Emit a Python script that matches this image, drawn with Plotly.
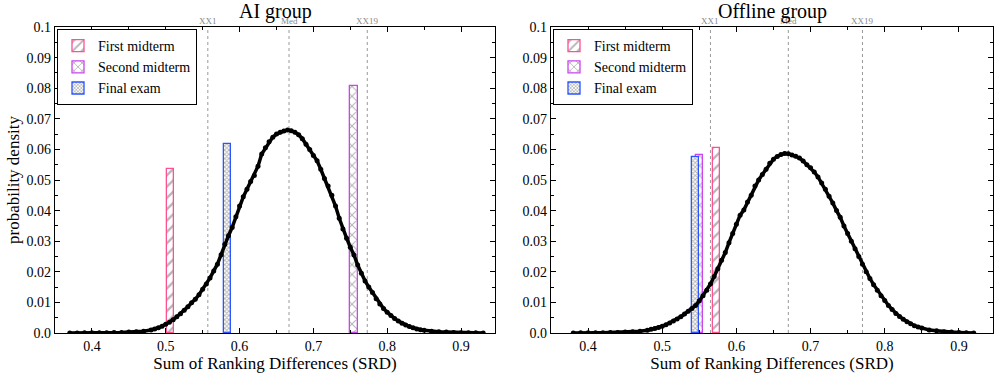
import plotly.graph_objects as go
from plotly.subplots import make_subplots

# ---------------- data ----------------
ai_x = [0.370, 0.380, 0.390, 0.400, 0.410, 0.420, 0.430, 0.440, 0.450, 0.460, 0.470, 0.480,
        0.485, 0.490, 0.495, 0.500, 0.505, 0.510, 0.515, 0.520, 0.525, 0.530, 0.535, 0.540,
        0.545, 0.550, 0.555, 0.560, 0.565, 0.570, 0.575, 0.580, 0.585, 0.590, 0.595, 0.600,
        0.605, 0.610, 0.615, 0.620, 0.625, 0.630, 0.635, 0.640, 0.645, 0.650, 0.655, 0.660,
        0.665, 0.670, 0.675, 0.680, 0.685, 0.690, 0.695, 0.700, 0.705, 0.710, 0.715, 0.720,
        0.725, 0.730, 0.735, 0.740, 0.745, 0.750, 0.755, 0.760, 0.765, 0.770, 0.775, 0.780,
        0.785, 0.790, 0.795, 0.800, 0.805, 0.810, 0.815, 0.820, 0.825, 0.830, 0.835, 0.840,
        0.845, 0.850, 0.860, 0.870, 0.880, 0.890, 0.900, 0.910, 0.920, 0.930]
ai_y = [0.0000, 0.0000, 0.0001, 0.0001, 0.0001, 0.0001, 0.0002, 0.0002, 0.0003, 0.0004, 0.0006, 0.0010,
        0.0013, 0.0017, 0.0022, 0.0029, 0.0035, 0.0043, 0.0053, 0.0063, 0.0074, 0.0086, 0.0099, 0.0110,
        0.0125, 0.0143, 0.0160, 0.0180, 0.0203, 0.0225, 0.0256, 0.0290, 0.0318, 0.0345, 0.0380, 0.0415,
        0.0445, 0.0470, 0.0495, 0.0515, 0.0545, 0.0585, 0.0605, 0.0625, 0.0640, 0.0650, 0.0656, 0.0660,
        0.0663, 0.0661, 0.0656, 0.0648, 0.0635, 0.0617, 0.0600, 0.0580, 0.0563, 0.0535, 0.0505, 0.0480,
        0.0450, 0.0415, 0.0375, 0.0340, 0.0310, 0.0280, 0.0255, 0.0222, 0.0195, 0.0170, 0.0150, 0.0132,
        0.0112, 0.0095, 0.0080, 0.0068, 0.0057, 0.0047, 0.0039, 0.0032, 0.0026, 0.0021, 0.0017, 0.0013,
        0.0011, 0.0009, 0.0006, 0.0004, 0.0003, 0.0002, 0.0001, 0.0001, 0.0001, 0.0000]

off_x = [0.380, 0.390, 0.400, 0.410, 0.420, 0.430, 0.440, 0.450, 0.460, 0.470, 0.480,
         0.485, 0.490, 0.495, 0.500, 0.505, 0.510, 0.515, 0.520, 0.525, 0.530, 0.535, 0.540,
         0.545, 0.550, 0.555, 0.560, 0.565, 0.570, 0.575, 0.580, 0.585, 0.590, 0.595, 0.600,
         0.605, 0.610, 0.615, 0.620, 0.625, 0.630, 0.635, 0.640, 0.645, 0.650, 0.655, 0.660,
         0.665, 0.670, 0.675, 0.680, 0.685, 0.690, 0.695, 0.700, 0.705, 0.710, 0.715, 0.720,
         0.725, 0.730, 0.735, 0.740, 0.745, 0.750, 0.755, 0.760, 0.765, 0.770, 0.775, 0.780,
         0.785, 0.790, 0.795, 0.800, 0.805, 0.810, 0.815, 0.820, 0.825, 0.830, 0.835, 0.840,
         0.845, 0.850, 0.860, 0.870, 0.880, 0.890, 0.900, 0.910, 0.920]
off_y = [0.0000, 0.0001, 0.0001, 0.0001, 0.0001, 0.0002, 0.0002, 0.0003, 0.0004, 0.0006, 0.0009,
         0.0012, 0.0015, 0.0018, 0.0022, 0.0027, 0.0033, 0.0039, 0.0046, 0.0053, 0.0062, 0.0071, 0.0080,
         0.0090, 0.0105, 0.0122, 0.0140, 0.0160, 0.0185, 0.0210, 0.0238, 0.0263, 0.0295, 0.0325, 0.0355,
         0.0385, 0.0402, 0.0428, 0.0450, 0.0480, 0.0500, 0.0518, 0.0535, 0.0555, 0.0568, 0.0577, 0.0583,
         0.0587, 0.0586, 0.0582, 0.0578, 0.0572, 0.0562, 0.0550, 0.0540, 0.0526, 0.0510, 0.0490, 0.0470,
         0.0447, 0.0425, 0.0400, 0.0378, 0.0350, 0.0325, 0.0300, 0.0275, 0.0250, 0.0225, 0.0200, 0.0178,
         0.0158, 0.0140, 0.0122, 0.0106, 0.0090, 0.0077, 0.0064, 0.0054, 0.0045, 0.0037, 0.0030, 0.0024,
         0.0020, 0.0016, 0.0010, 0.0007, 0.0004, 0.0003, 0.0002, 0.0001, 0.0000]

exams = ["First midterm", "Second midterm", "Final exam"]
ai_exam_x = [0.507, 0.755, 0.584]
ai_exam_y = [0.0536, 0.0807, 0.0618]
off_exam_x = [0.5727, 0.5507, 0.5453]
off_exam_y = [0.0605, 0.0582, 0.0575]

ref_labels = ["XX1", "Med", "XX19"]
ai_ref_x = [0.557, 0.667, 0.773]
off_ref_x = [0.565, 0.670, 0.770]

titles = ["AI group", "Offline group"]

# ---------------- styling ----------------
FONT = "Liberation Serif"
edge_colors = ["#ff4f95", "#cc44ee", "#2a55ff"]
patterns = ["/", "x", "x"]
pat_sizes = [8, 7, 3]
pat_solid = [0.3, 0.3, 0.55]

fig = make_subplots(rows=1, cols=2, horizontal_spacing=0.05)

groups = [(ai_x, ai_y, ai_exam_x, ai_exam_y, ai_ref_x, "legend"),
          (off_x, off_y, off_exam_x, off_exam_y, off_ref_x, "legend2")]

for c, (cx, cy, ex, ey, rx, lg) in enumerate(groups, start=1):
    xref = "x" if c == 1 else "x2"
    yref = "y" if c == 1 else "y2"
    for i, name in enumerate(exams):
        fig.add_trace(go.Bar(
            x=[ex[i]], y=[ey[i]], width=0.0095, name=name, legend=lg,
            marker=dict(color="white",
                        line=dict(color=edge_colors[i], width=1.3),
                        pattern=dict(shape=patterns[i], fgcolor="#6f6f6f", bgcolor="white",
                                     size=pat_sizes[i], solidity=pat_solid[i],
                                     fillmode="overlay")),
        ), row=1, col=c)
    fig.add_trace(go.Scatter(
        x=cx, y=cy, mode="lines+markers", showlegend=False,
        line=dict(color="black", width=3.5),
        marker=dict(color="black", size=5),
    ), row=1, col=c)
    for j, lab in enumerate(ref_labels):
        fig.add_shape(type="line", x0=rx[j], x1=rx[j], y0=0, y1=0.1, xref=xref, yref=yref,
                      line=dict(color="#999999", width=1, dash="dot"), layer="below")
        fig.add_annotation(x=rx[j], y=0.1, xref=xref, yref=yref,
                           text=lab, showarrow=False, xanchor="center", yanchor="bottom", yshift=-1,
                           font=dict(family=FONT, size=9, color="#888888"))

axis_common = dict(
    showline=True, linecolor="black", linewidth=1.2, mirror="ticks",
    ticks="inside", ticklen=5, tickwidth=1, tickcolor="black",
    showgrid=False, zeroline=False, automargin=False,
    tickfont=dict(family=FONT, size=14, color="black"),
)

for c in (1, 2):
    fig.update_xaxes(range=[0.35, 0.946], tick0=0.4, dtick=0.1,
                     minor=dict(ticks="inside", ticklen=3, dtick=0.05, tick0=0.4, tickcolor="black"),
                     title=dict(text="Sum of Ranking Differences (SRD)",
                                font=dict(family=FONT, size=17, color="black"), standoff=4),
                     **axis_common, row=1, col=c)
    fig.update_yaxes(range=[0, 0.1],
                     tickvals=[i / 100 for i in range(11)],
                     ticktext=["0.0"] + [f"{i/100:g}" for i in range(1, 10)] + ["0.1"],
                     minor=dict(ticks="inside", ticklen=3, dtick=0.005, tick0=0, tickcolor="black"),
                     **axis_common, row=1, col=c)

fig.update_yaxes(title=dict(text="probability density", font=dict(family=FONT, size=17, color="black"),
                            standoff=2), row=1, col=1)

W, H = 997, 376
fig.update_xaxes(domain=[55 / W, 495 / W], row=1, col=1)
fig.update_xaxes(domain=[551 / W, 993 / W], row=1, col=2)
fig.update_yaxes(domain=[1 - 333 / H, 1 - 27 / H])

for k, t in enumerate(titles):
    cxp = (275 if k == 0 else 772) / W
    fig.add_annotation(x=cxp, y=1 - 12 / H, xref="paper", yref="paper", text=t, showarrow=False,
                       xanchor="center", yanchor="middle",
                       font=dict(family=FONT, size=20, color="black"))

legend_style = dict(font=dict(family=FONT, size=14, color="black"),
                    bordercolor="black", borderwidth=1, bgcolor="white",
                    xanchor="left", yanchor="top", tracegroupgap=0, itemwidth=30)

fig.update_layout(
    width=W, height=H, margin=dict(l=0, r=0, t=0, b=0),
    paper_bgcolor="white", plot_bgcolor="white",
    barmode="overlay", bargap=0,
    legend=dict(x=57 / W, y=1 - 29 / H, **legend_style),
    legend2=dict(x=553 / W, y=1 - 29 / H, **legend_style),
    font=dict(family=FONT, color="black"),
)

fig.write_html("out.html", config={"displayModeBar": False},
               post_script="document.body.style.margin='0px';document.body.style.overflow='hidden';")
